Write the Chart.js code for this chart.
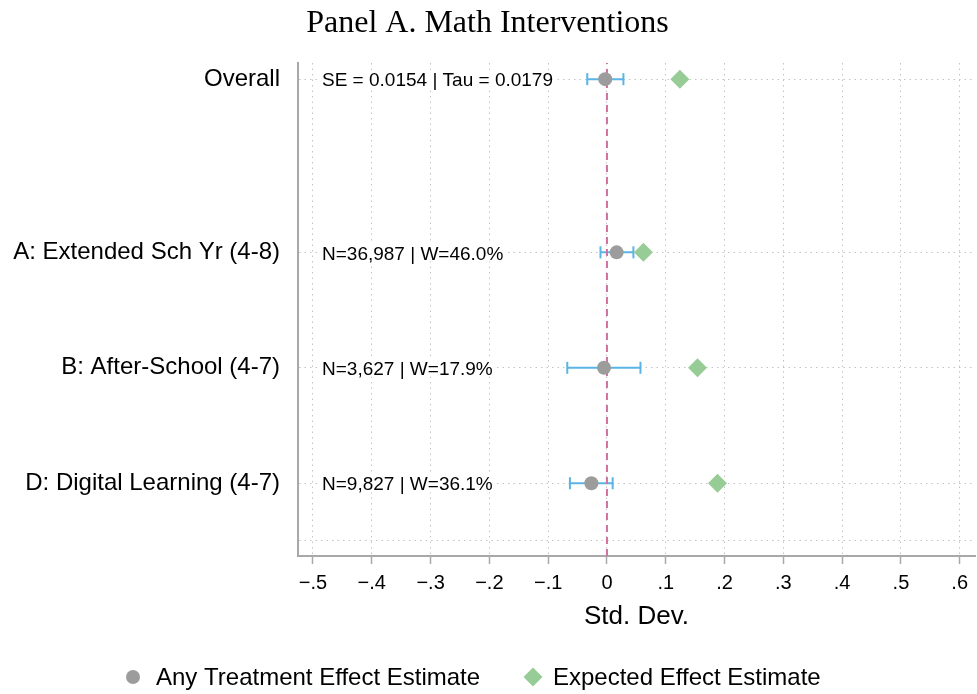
<!DOCTYPE html>
<html>
<head>
<meta charset="utf-8">
<script src="https://cdn.jsdelivr.net/npm/chart.js@4.4.1/dist/chart.umd.min.js"></script>
<style>
  body { margin: 0; background: #fff; }
  #chart { display: block; }
</style>
</head>
<body>
<canvas id="chart" width="977" height="694"></canvas>
<script>
// data
const rowLabels = ['Overall', 'A: Extended Sch Yr (4-8)', 'B: After-School (4-7)', 'D: Digital Learning (4-7)'];
const rowPos = [4.5, 3, 2, 1];
const anyEstimate = [-0.003, 0.0165, -0.005, -0.0265];
const ciLow = [-0.0335, -0.011, -0.0675, -0.063];
const ciHigh = [0.028, 0.045, 0.057, 0.0097];
const expectedEstimate = [0.124, 0.062, 0.154, 0.188];
const rowNotes = ['SE = 0.0154 | Tau = 0.0179', 'N=36,987 | W=46.0%', 'N=3,627 | W=17.9%', 'N=9,827 | W=36.1%'];
const xTicks = [-0.5, -0.4, -0.3, -0.2, -0.1, 0, 0.1, 0.2, 0.3, 0.4, 0.5, 0.6];
const yGridPos = [0.5, 1, 2, 3, 4.5];

const xMin = -0.5255, xMax = 0.626;
const yMin = 0.37, yMax = 4.64;

const sans = '"Liberation Sans", Arial, Helvetica, sans-serif';
const grey = '#9c9c9c';
const green = '#97cc97';
const blue = '#5ab4e6';
const pink = '#d0709f';

// stata style: -.5  0  .1
function fmtTick(v) {
    let s = (Math.round(v * 10) / 10).toString();
    return s.replace('0.', '.').replace('-', '\u2212');
}

// confidence interval lines, one per row
const ciSets = rowPos.map((y, i) => ({
    label: 'ci' + i,
    data: [{x: ciLow[i], y: y}, {x: ciHigh[i], y: y}],
    showLine: true,
    borderColor: blue,
    borderWidth: 2,
    pointStyle: 'line',
    rotation: 90,
    pointRadius: 6,
    pointBorderColor: blue,
    pointBorderWidth: 2,
    order: 5
}));

const datasets = [
    {
        label: 'Any Treatment Effect Estimate',
        data: rowPos.map((y, i) => ({x: anyEstimate[i], y: y})),
        pointStyle: 'circle',
        pointRadius: 7,
        backgroundColor: grey,
        borderColor: grey,
        pointBorderWidth: 0,
        order: 1
    },
    {
        label: 'Expected Effect Estimate',
        data: rowPos.map((y, i) => ({x: expectedEstimate[i], y: y})),
        pointStyle: 'rectRot',
        pointRadius: 9.5,
        backgroundColor: green,
        borderColor: green,
        pointBorderWidth: 0,
        order: 0
    },
    {
        label: 'zero',
        data: [{x: 0, y: yMin}, {x: 0, y: yMax}],
        showLine: true,
        borderColor: pink,
        borderWidth: 2,
        borderDash: [7, 5],
        pointRadius: 0,
        order: 3
    }
].concat(ciSets);

// text next to each row, on a white patch like the original
const notesPlugin = {
    id: 'rowNotes',
    afterDatasetsDraw(chart) {
        const ctx = chart.ctx;
        const ys = chart.scales.y;
        const left = chart.chartArea.left + 24;
        ctx.save();
        ctx.font = '19px ' + sans;
        ctx.textBaseline = 'middle';
        ctx.textAlign = 'left';
        rowNotes.forEach((t, i) => {
            const y = ys.getPixelForValue(rowPos[i]);
            const w = ctx.measureText(t).width;
            ctx.fillStyle = '#fff';
            ctx.fillRect(left - 3, y - 9, w + 6, 18);
            ctx.fillStyle = '#000';
            ctx.fillText(t, left, y + 2);
        });
        ctx.restore();
    }
};

// legend under the axis
const legendPlugin = {
    id: 'bottomLegend',
    afterDraw(chart) {
        const ctx = chart.ctx;
        const y = 677;
        const items = [
            {ds: chart.data.datasets[0], x: 133, r: 7, gap: 23},
            {ds: chart.data.datasets[1], x: 533, r: 9.5, gap: 20}
        ];
        ctx.save();
        items.forEach(it => {
            ctx.fillStyle = it.ds.backgroundColor;
            ctx.strokeStyle = it.ds.backgroundColor;
            Chart.helpers.drawPoint(ctx, {pointStyle: it.ds.pointStyle, radius: it.r, rotation: 0, borderWidth: 0}, it.x, y);
            ctx.fillStyle = '#000';
            ctx.font = '24px ' + sans;
            ctx.textBaseline = 'middle';
            ctx.fillText(it.ds.label, it.x + it.gap, y + 1);
        });
        ctx.restore();
    }
};

new Chart(document.getElementById('chart'), {
    type: 'scatter',
    data: {datasets: datasets},
    options: {
        responsive: false,
        animation: false,
        layout: {autoPadding: false, padding: {left: 0, right: 2, top: 0, bottom: 60}},
        plugins: {
            legend: {display: false},
            tooltip: {enabled: false},
            title: {
                display: true,
                text: 'Panel A. Math Interventions',
                color: '#000',
                font: {family: '"Liberation Serif", "Times New Roman", serif', size: 32, weight: 'normal'},
                padding: {top: 4, bottom: 20.6}
            }
        },
        scales: {
            x: {
                type: 'linear',
                min: xMin,
                max: xMax,
                afterBuildTicks: s => { s.ticks = xTicks.map(v => ({value: v})); },
                afterFit: s => { s.height = 78; s.paddingLeft = 0; s.paddingRight = 0; },
                ticks: {
                    color: '#000',
                    font: {family: sans, size: 20},
                    padding: 7,
                    maxRotation: 0,
                    callback: v => fmtTick(v)
                },
                grid: {
                    color: '#c4c4c4',
                    lineWidth: 1,
                    tickColor: '#a8a8a8',
                    tickWidth: 1.5,
                    tickLength: 8,
                    tickBorderDash: []
                },
                border: {display: true, color: '#a8a8a8', width: 2, dash: [1.5, 4]},
                title: {
                    display: true,
                    text: 'Std. Dev.',
                    color: '#000',
                    font: {family: sans, size: 26},
                    padding: {top: 8, bottom: 1.4}
                }
            },
            y: {
                type: 'linear',
                min: yMin,
                max: yMax,
                afterBuildTicks: s => { s.ticks = yGridPos.map(v => ({value: v})); },
                afterFit: s => { s.width = 298; s.paddingTop = 0; s.paddingBottom = 0; },
                ticks: {
                    color: '#000',
                    font: {family: sans, size: 24},
                    padding: 18,
                    callback: v => {
                        const i = rowPos.indexOf(v);
                        return i >= 0 ? rowLabels[i] : '';
                    }
                },
                grid: {
                    color: '#c4c4c4',
                    lineWidth: 1,
                    drawTicks: false
                },
                border: {display: true, color: '#a8a8a8', width: 2, dash: [1.5, 4]}
            }
        }
    },
    plugins: [notesPlugin, legendPlugin]
});
</script>
</body>
</html>
